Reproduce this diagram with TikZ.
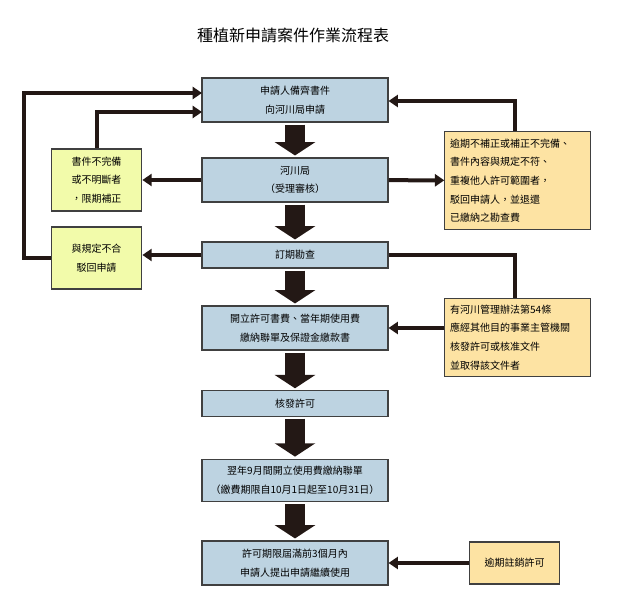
\documentclass[tikz,border=0pt]{standalone}
\usepackage{fontspec}
\setmainfont{Noto Sans CJK TC}
\usetikzlibrary{arrows.meta}
\definecolor{stepblue}{HTML}{BDD3E1}
\definecolor{notegreen}{HTML}{F2FBAA}
\definecolor{noteorange}{HTML}{FDE3A3}
\definecolor{arrowdark}{HTML}{231815}
\tikzstyle{box}=[draw=black!75, line width=0.8pt, inner sep=0pt, font=\fontsize{7.5}{14}\selectfont]
\tikzstyle{stepnode}=[box, fill=stepblue, minimum width=139.5pt, align=center]
\tikzstyle{greennote}=[box, fill=notegreen, minimum width=68pt, minimum height=46.5pt, align=center]
\tikzstyle{orangenote}=[box, fill=noteorange, minimum width=109pt, align=left]
\newcommand{\stepbox}{\node[stepnode]}

\begin{document}
\begin{tikzpicture}[x=0.75pt, y=-0.75pt
    ,flow/.style={draw=arrowdark, line width=15pt, shorten <=1.5pt, shorten >=1.5pt,
        -{Triangle[width=30pt,length=10pt]}}
    ,link/.style={draw=arrowdark, line width=3pt, -{Triangle[width=9pt,length=7pt]}}
]
\useasboundingbox (0,0) rectangle (629,598);
\node[font=\fontsize{12}{14}\selectfont] (title) at (293,35) {種植新申請案件作業流程表};
\stepbox[minimum height=33pt] (a) at (295,100) {申請人備齊書件\\向河川局申請};
\stepbox[minimum height=33pt] (b) at (295,180) {河川局\\（受理審核）};
\stepbox[minimum height=19.5pt] (c) at (295,255) {訂期勘查};
\stepbox[minimum height=33pt] (d) at (295,328) {開立許可書費、當年期使用費\\繳納聯單及保證金繳款書};
\stepbox[minimum height=19pt] (e) at (295,403.5) {核發許可};
\stepbox[minimum height=32pt] (f) at (295,480.5) {翌年9月間開立使用費繳納聯單\\（繳費期限自10月1日起至10月31日）};
\stepbox[minimum height=33pt] (g) at (295,563) {許可期限屆滿前3個月內\\申請人提出申請繼續使用};
\node[greennote] (g1) at (96.5,180) {書件不完備\\或不明斷者\\，限期補正};
\node[greennote] (g2) at (96.5,258) {與規定不合\\駁回申請};
\node[orangenote, minimum height=74pt, text width=101pt] (o1) at (517.5,180.5)
    {逾期不補正或補正不完備、\\書件內容與規定不符、\\重複他人許可範圍者，\\駁回申請人，並退還\\已繳納之勘查費};
\node[orangenote, minimum height=59pt, text width=101pt] (o2) at (517.5,337.5)
    {有河川管理辦法第54條\\應經其他目的事業主管機關\\核發許可或核准文件\\並取得該文件者};
\node[orangenote, minimum width=68pt, minimum height=31.5pt, align=center] (o3) at (514.5,563) {逾期註銷許可};
\coordinate (a-left) at (202,93);
\coordinate (a-inner) at (202,112);
\path[flow] (a) -- (b);
\path[flow] (b) -- (c);
\path[flow] (c) -- (d);
\path[flow] (d) -- (e);
\path[flow] (e) -- (f);
\path[flow] (f) -- (g);
\path[link] (b) -- (g1);
\path[link] (b) -- (o1);
\path[link] (c.west) -- (c.west -| g2.east);
\path[link] (g2.west) -| (24,93) -- (a-left);
\path[link] (g1.north) |- (a-inner);
\path[link] (o1.north -| 515,0) |- (a.east |- 0,101);
\path[draw=arrowdark, line width=3pt] (c.east) -| (o2.north -| 515,0);
\path[link] (o2.west |- d.east) -- (d.east);
\path[link] (o3) -- (g);
\end{tikzpicture}
\end{document}
